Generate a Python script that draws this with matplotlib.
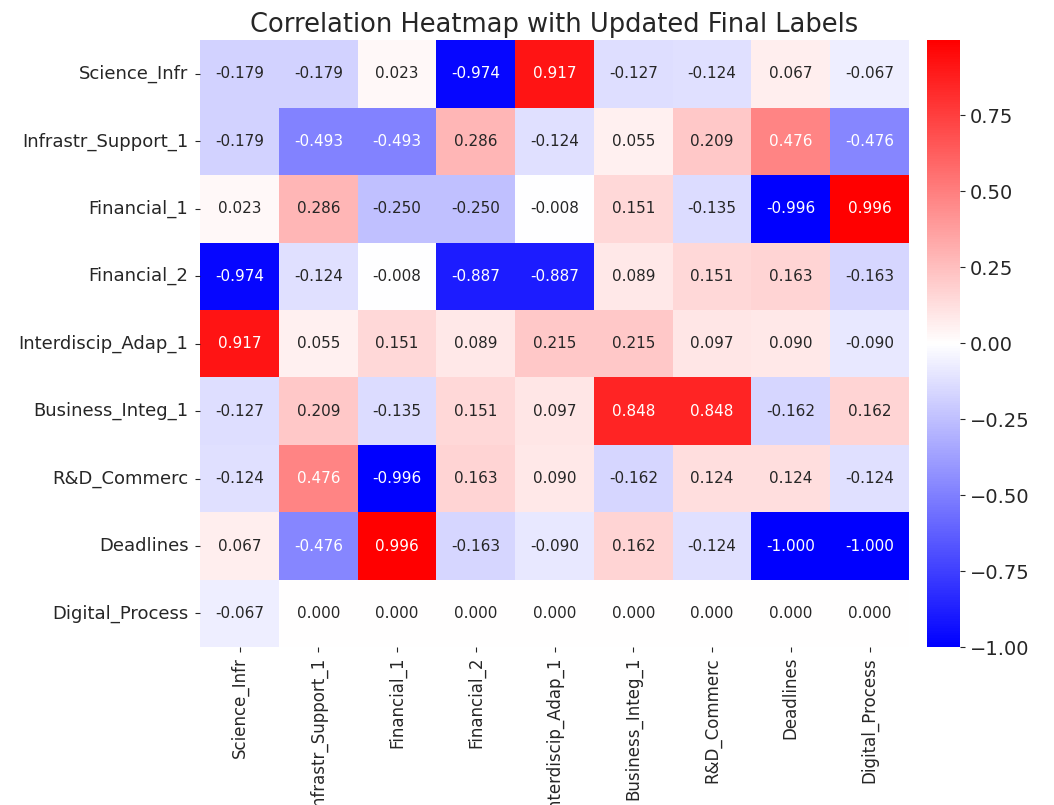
import matplotlib
matplotlib.use("Agg")
import matplotlib.pyplot as plt
import numpy as np
import pandas as pd
import seaborn as sns

labels = ["Science_Infr", "Infrastr_Support_1", "Financial_1", "Financial_2",
          "Interdiscip_Adap_1", "Business_Integ_1", "R&D_Commerc",
          "Deadlines", "Digital_Process"]

row_science = [-0.179, -0.179, 0.023, -0.974, 0.917, -0.127, -0.124, 0.067, -0.067]
row_infra = [-0.179, -0.493, -0.493, 0.286, -0.124, 0.055, 0.209, 0.476, -0.476]
row_fin1 = [0.023, 0.286, -0.250, -0.250, -0.008, 0.151, -0.135, -0.996, 0.996]
row_fin2 = [-0.974, -0.124, -0.008, -0.887, -0.887, 0.089, 0.151, 0.163, -0.163]
row_inter = [0.917, 0.055, 0.151, 0.089, 0.215, 0.215, 0.097, 0.090, -0.090]
row_business = [-0.127, 0.209, -0.135, 0.151, 0.097, 0.848, 0.848, -0.162, 0.162]
row_rd = [-0.124, 0.476, -0.996, 0.163, 0.090, -0.162, 0.124, 0.124, -0.124]
row_deadlines = [0.067, -0.476, 0.996, -0.163, -0.090, 0.162, -0.124, -1.000, -1.000]
row_digital = [-0.067, 0.000, 0.000, 0.000, 0.000, 0.000, 0.000, 0.000, 0.000]

corr = pd.DataFrame([row_science, row_infra, row_fin1, row_fin2, row_inter,
                     row_business, row_rd, row_deadlines, row_digital],
                    index=labels, columns=labels)

txt = "#262626"
plt.rcParams["text.color"] = txt
plt.rcParams["xtick.color"] = txt
plt.rcParams["ytick.color"] = txt

fig = plt.figure(figsize=(10.54, 8.05), dpi=100)
ax = fig.add_axes([0.19, 0.196, 0.6724, 0.754])
cax = fig.add_axes([0.8795, 0.196, 0.0313, 0.754])

sns.heatmap(corr, ax=ax, cbar_ax=cax, cmap="bwr", annot=True, fmt=".3f",
            annot_kws={"fontsize": 11})

ax.set_title("Correlation Heatmap with Updated Final Labels", fontsize=18.5)
ax.set_xticklabels(labels, rotation=90, fontsize=12)
ax.set_yticklabels(labels, rotation=0, fontsize=13)
ax.tick_params(axis="y", pad=5)
cax.tick_params(labelsize=14)

fig.savefig("out.png", dpi=100)
